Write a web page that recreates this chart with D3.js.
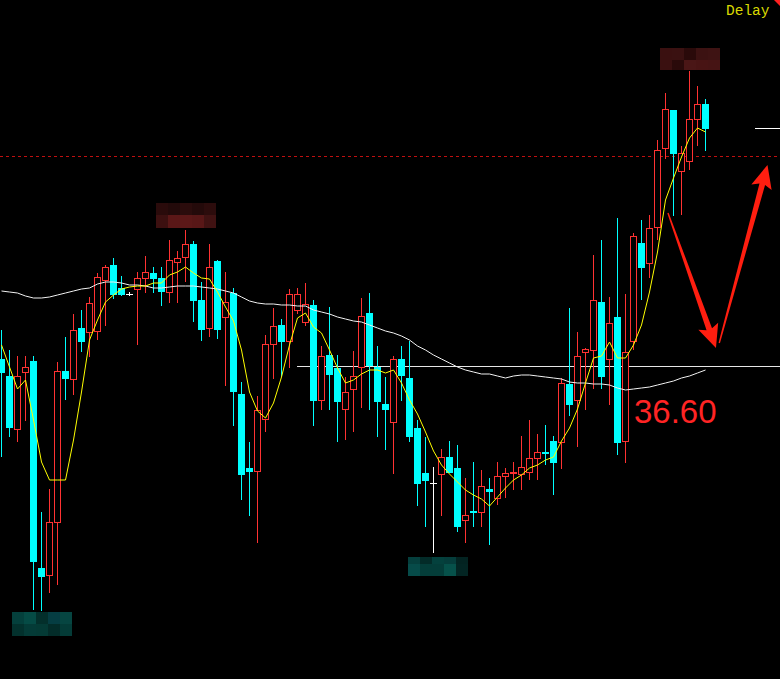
<!DOCTYPE html>
<html>
<head>
<meta charset="utf-8">
<script src="https://cdn.jsdelivr.net/npm/d3@7/dist/d3.min.js"></script>
<style>
  html, body { margin: 0; padding: 0; background: #000; }
  svg { display: block; }
</style>
</head>
<body>
<svg id="chart" width="780" height="679"></svg>
<script>
// ---- data (bar index 0..88) ----
const opens = [36.67,36.50,35.96,36.53,36.65,34.58,34.50,35.03,36.55,36.46,
36.98,36.93,36.94,37.45,37.61,37.38,37.32,37.36,37.47,37.53,
37.48,37.33,37.63,37.68,37.82,37.26,36.97,37.65,37.08,37.33,
36.32,35.58,35.54,36.06,36.81,37.01,36.84,37.15,37.03,37.21,
36.25,36.71,36.58,36.16,36.36,36.58,37.13,36.59,36.22,36.03,
36.67,36.48,35.98,35.53,35.43,35.51,35.69,35.58,35.05,35.15,
35.13,35.37,35.27,35.49,35.52,35.51,35.53,35.67,35.74,35.85,
35.83,36.42,36.25,36.73,36.75,37.24,36.66,37.09,35.84,36.84,
37.83,37.62,37.98,38.77,39.16,38.54,38.64,39.06,39.22];
const highs = [36.96,36.76,36.70,36.70,36.70,35.14,35.37,36.64,36.89,37.12,
37.16,37.29,37.53,37.61,37.68,37.50,37.34,37.54,37.70,37.59,
37.59,37.86,37.75,37.96,37.85,37.44,37.82,37.66,37.54,37.38,
36.44,35.84,36.30,36.91,37.18,37.07,37.37,37.38,37.43,37.26,
36.80,37.19,36.71,36.49,36.75,37.28,37.33,36.80,36.49,36.70,
36.80,36.85,36.06,35.89,35.59,35.77,35.85,35.81,35.48,35.64,
35.56,35.48,35.64,35.58,35.64,35.90,36.06,35.92,36.01,35.90,
36.48,37.18,36.94,36.78,37.71,37.86,37.29,38.08,37.32,37.93,
38.06,38.11,38.86,39.33,39.16,38.80,39.55,39.40,39.27];
const lows = [35.69,35.89,35.84,36.05,34.16,34.15,34.33,34.41,36.26,36.31,
36.74,36.69,36.86,37.00,37.27,37.30,37.30,36.81,37.33,37.33,
37.20,37.23,37.23,37.44,37.04,36.85,36.89,36.87,36.40,36.00,
35.26,35.10,34.83,35.94,36.47,36.49,36.58,37.12,37.00,36.00,
36.16,36.16,35.84,35.86,35.94,36.18,36.16,35.89,35.76,35.52,
36.25,35.84,35.20,34.99,34.73,35.10,35.53,34.94,34.83,34.99,
34.99,34.81,35.21,35.28,35.36,35.36,35.46,35.46,35.61,35.31,
35.57,36.10,35.79,36.16,36.37,36.37,36.21,35.71,35.63,36.76,
37.26,37.48,37.86,38.67,38.10,38.11,38.56,38.80,38.75];
const closes = [36.53,35.98,36.50,36.59,34.64,34.49,35.04,36.55,36.47,36.96,
36.84,37.23,37.49,37.59,37.31,37.31,37.32,37.48,37.54,37.47,
37.34,37.66,37.68,37.82,37.25,36.96,37.59,36.96,37.24,36.34,
35.51,35.54,36.16,36.82,37.00,36.84,37.32,37.32,37.22,36.25,
36.70,36.51,36.24,36.34,36.50,37.10,36.60,36.24,36.16,36.67,
36.50,35.89,35.42,35.45,35.43,35.69,35.53,34.99,35.11,35.13,
35.40,35.34,35.50,35.53,35.54,35.59,35.68,35.74,35.72,35.63,
36.43,36.21,36.70,36.77,37.26,36.49,37.03,35.83,36.74,37.90,
37.58,37.98,38.76,39.17,38.72,38.73,39.07,39.22,38.97];
const maShort = [36.81,36.59,36.37,36.46,36.06,35.64,35.46,35.46,35.46,35.86,
36.34,36.86,37.06,37.24,37.31,37.37,37.39,37.40,37.40,37.43,
37.43,37.51,37.54,37.59,37.53,37.48,37.47,37.34,37.19,37.05,
36.76,36.34,36.15,36.08,36.23,36.49,36.81,37.08,37.13,36.99,
36.93,36.76,36.58,36.43,36.46,36.52,36.56,36.56,36.53,36.56,
36.43,36.26,36.12,35.94,35.75,35.61,35.52,35.44,35.36,35.31,
35.27,35.20,35.29,35.38,35.46,35.51,35.58,35.61,35.66,35.69,
35.85,35.98,36.17,36.43,36.68,36.70,36.84,36.68,36.68,36.81,
37.01,37.34,37.74,38.26,38.48,38.69,38.88,38.98,38.94];
const maLong = [37.35,37.34,37.33,37.30,37.28,37.28,37.29,37.31,37.33,37.35,
37.37,37.38,37.42,37.44,37.44,37.43,37.41,37.41,37.40,37.38,
37.38,37.39,37.40,37.40,37.40,37.39,37.38,37.37,37.35,37.33,
37.29,37.25,37.23,37.22,37.22,37.21,37.21,37.20,37.20,37.16,
37.14,37.12,37.09,37.07,37.05,37.04,37.01,36.98,36.95,36.93,
36.90,36.86,36.80,36.76,36.71,36.67,36.63,36.59,36.56,36.54,
36.52,36.52,36.50,36.48,36.50,36.51,36.51,36.50,36.49,36.48,
36.47,36.44,36.43,36.43,36.42,36.42,36.41,36.38,36.36,36.37,
36.38,36.39,36.41,36.43,36.45,36.48,36.50,36.53,36.56];

const levelPrice = 36.60;      // white horizontal level, labelled
const levelLabel = "36.60";
const levelStart = 36.94;      // bar index where the level line starts
const dashedPrice = 38.70;     // red dotted line
const lastPrice = 38.98;       // short white marker at right
const statusText = "Delay";

// mosaic (blurred) label boxes: anchor bar index / price of top-left corner
const mosaicBoxes = [
  {i: 19.31, p: 38.23, h: [12, 13], colors: [["#2a0b0b","#230a0a","#2b0c0c","#240a0a","#2c0c0c"],["#3c1010","#5a1717","#5c1818","#581717","#401212"]]},
  {i: 82.31, p: 39.78, h: [12, 10], colors: [["#3a1010","#3a1111","#2a0a0a","#3c1212","#3e1313"],["#3a1010","#2a0a0a","#4a1616","#481414","#461414"]]},
  {i: 1.31,  p: 34.14, h: [12, 12], colors: [["#04403c","#054b45","#032f2b","#053d42","#064541"],["#03312d","#043b37","#043a35","#032c29","#043b37"]]},
  {i: 50.81, p: 34.69, h: [7, 12],  colors: [["#053f3d","#032b28","#04413d","#053d3b","#032321"],["#064b49","#043d39","#043d39","#06514a","#032523"]]}
];
// arrows: [start, tip] in (bar index, price)
const arrows = [
  {from: [83.31, 38.13], to: [89.31, 36.78]},
  {from: [89.72, 36.83], to: [95.75, 38.61]}
];

// ---- scales ----
const W = 780, H = 679;
const n = opens.length;
const x = d3.scaleLinear().domain([0, n - 1]).range([1.5, 1.5 + 8 * (n - 1)]);
const y = d3.scaleLinear().domain([33.47, 40.26]).range([H, 0]);

const UP = "#ff3232", DOWN = "#00ffff", FLAT = "#ffffff";
const svg = d3.select("#chart");
svg.append("rect").attr("width", W).attr("height", H).attr("fill", "#000");

// level line
svg.append("line")
  .attr("x1", x(levelStart)).attr("x2", W)
  .attr("y1", Math.round(y(levelPrice)) + 0.5).attr("y2", Math.round(y(levelPrice)) + 0.5)
  .attr("stroke", "#e6e6e6").attr("stroke-width", 1);

// dashed red line
svg.append("line")
  .attr("x1", 0).attr("x2", W)
  .attr("y1", Math.round(y(dashedPrice)) + 0.5).attr("y2", Math.round(y(dashedPrice)) + 0.5)
  .attr("stroke", "#c01010").attr("stroke-width", 1).attr("stroke-dasharray", "3,3");

// last price marker
svg.append("line")
  .attr("x1", x(n - 1) + 49.5).attr("x2", W)
  .attr("y1", Math.round(y(lastPrice)) + 0.5).attr("y2", Math.round(y(lastPrice)) + 0.5)
  .attr("stroke", "#ffffff").attr("stroke-width", 1);

// candles
const bars = d3.range(n).map(i => ({i, o: opens[i], h: highs[i], l: lows[i], c: closes[i]}));
const g = svg.append("g").attr("shape-rendering", "crispEdges");
bars.forEach(d => {
  const cx = Math.floor(x(d.i)) + 0.5;
  const yH = Math.round(y(d.h)), yL = Math.round(y(d.l));
  const yTop = Math.round(y(Math.max(d.o, d.c))), yBot = Math.round(y(Math.min(d.o, d.c)));
  if (d.c > d.o) {
    g.append("line").attr("x1", cx).attr("x2", cx).attr("y1", yH).attr("y2", yTop).attr("stroke", UP);
    g.append("line").attr("x1", cx).attr("x2", cx).attr("y1", yBot).attr("y2", yL).attr("stroke", UP);
    g.append("rect").attr("x", cx - 3).attr("y", yTop + 0.5).attr("width", 6).attr("height", Math.max(1, yBot - yTop - 1))
      .attr("fill", "#000").attr("stroke", UP).attr("stroke-width", 1);
  } else if (d.c < d.o) {
    g.append("line").attr("x1", cx).attr("x2", cx).attr("y1", yH).attr("y2", yL).attr("stroke", DOWN);
    g.append("rect").attr("x", cx - 3.5).attr("y", yTop).attr("width", 7).attr("height", Math.max(1, yBot - yTop))
      .attr("fill", DOWN);
  } else {
    g.append("line").attr("x1", cx).attr("x2", cx).attr("y1", yH).attr("y2", yL).attr("stroke", FLAT);
    g.append("line").attr("x1", cx - 3.5).attr("x2", cx + 3.5).attr("y1", yTop + 0.5).attr("y2", yTop + 0.5).attr("stroke", FLAT);
  }
});

// moving averages
const line = d3.line().x((v, i) => x(i)).y(v => y(v));
svg.append("path").datum(maLong).attr("d", line)
  .attr("fill", "none").attr("stroke", "#f0f0f0").attr("stroke-width", 1);
svg.append("path").datum(maShort).attr("d", line)
  .attr("fill", "none").attr("stroke", "#ffff00").attr("stroke-width", 1);

// mosaic boxes
mosaicBoxes.forEach(b => {
  const x0 = Math.round(x(b.i)), y0 = Math.round(y(b.p));
  let yy = y0;
  b.colors.forEach((row, r) => {
    row.forEach((col, c) => {
      svg.append("rect").attr("x", x0 + c * 12).attr("y", yy).attr("width", 12).attr("height", b.h[r])
        .attr("fill", col).attr("shape-rendering", "crispEdges");
    });
    yy += b.h[r];
  });
});

// arrows (tapered shaft + head)
arrows.forEach(a => {
  const x1 = x(a.from[0]), y1 = y(a.from[1]), x2 = x(a.to[0]), y2 = y(a.to[1]);
  const dx = x2 - x1, dy = y2 - y1, L = Math.hypot(dx, dy);
  const ux = dx / L, uy = dy / L, px = -uy, py = ux;
  const headL = 20, headW = 10.5, w0 = 0.7, w1 = 2.9;
  const bx = x2 - ux * headL, by = y2 - uy * headL;
  const pts = [
    [x1 + px * w0, y1 + py * w0],
    [bx + px * w1, by + py * w1],
    [bx + px * headW - ux * 3, by + py * headW - uy * 3],
    [x2, y2],
    [bx - px * headW - ux * 3, by - py * headW - uy * 3],
    [bx - px * w1, by - py * w1],
    [x1 - px * w0, y1 - py * w0]
  ];
  svg.append("path").attr("d", "M" + pts.map(p => p.join(",")).join("L") + "Z")
    .attr("fill", "#ff1e10");
});

// level label
svg.append("text")
  .attr("x", x(79.06)).attr("y", y(36.03))
  .attr("font-family", "'Liberation Sans', Arial, sans-serif")
  .attr("font-size", 33).attr("fill", "#ff2424")
  .text(levelLabel);

// status text
svg.append("text")
  .attr("x", 726).attr("y", 15)
  .attr("font-family", "'Liberation Mono', 'Courier New', monospace")
  .attr("font-size", 14.5).attr("fill", "#d8d800")
  .text(statusText);
svg.append("path").attr("d", `M${W - 6},0L${W},0L${W},6Z`).attr("fill", "#ff2020");
</script>
</body>
</html>
